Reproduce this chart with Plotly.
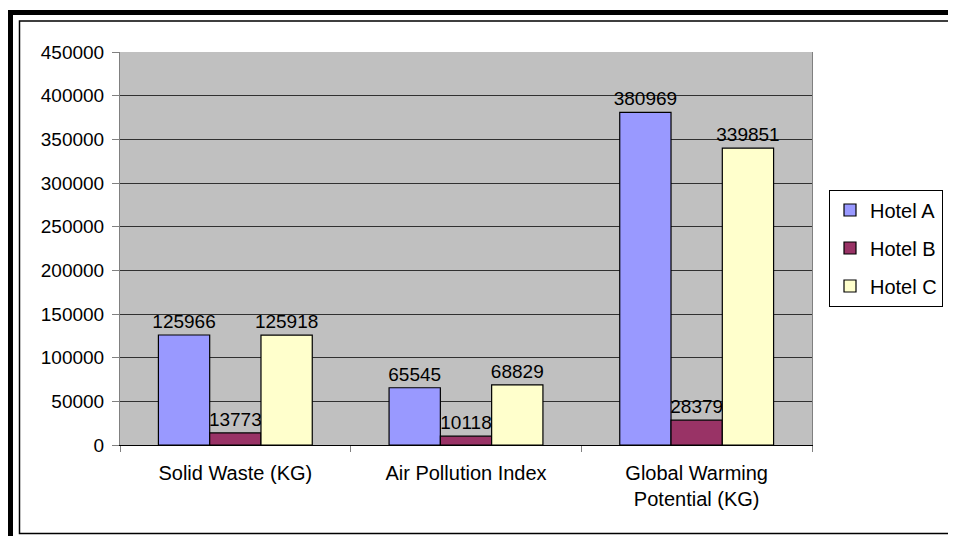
import plotly.graph_objects as go

categories = ["Solid Waste (KG)", "Air Pollution Index", "Global Warming<br>Potential (KG)"]
hotel_a = [125966, 65545, 380969]
hotel_b = [13773, 10118, 28379]
hotel_c = [125918, 68829, 339851]
series_names = ["Hotel A", "Hotel B", "Hotel C"]
series_colors = ["#9999FF", "#993366", "#FFFFCC"]
y_ticks = [0, 50000, 100000, 150000, 200000, 250000, 300000, 350000, 400000, 450000]

# page body adds an 8px offset; figure sized to fit the window
OFF = 8
W, H = 956 - OFF, 536 - OFF
ML, MR, MT, MB = 120 - OFF, 144, 52 - OFF, 91
PW, PH = W - ML - MR, H - MT - MB

def px(xs):
    # screen pixel -> paper x
    return (xs - OFF - ML) / PW

def py(ys):
    # screen pixel -> paper y
    return (H - MB - (ys - OFF)) / PH

FONT = "Liberation Sans, Arial, sans-serif"

fig = go.Figure()
for name, vals, col in zip(series_names, [hotel_a, hotel_b, hotel_c], series_colors):
    fig.add_trace(go.Bar(
        name=name, x=categories, y=vals,
        marker=dict(color=col, line=dict(color="black", width=1.2)),
        text=[str(v) for v in vals], textposition="outside",
        textfont=dict(family=FONT, size=19, color="black"),
        constraintext="none", cliponaxis=False,
        legendgroup=name,
    ))

fig.update_layout(
    width=W, height=H,
    margin=dict(l=ML, r=MR, t=MT, b=MB, pad=0),
    paper_bgcolor="white", plot_bgcolor="#C0C0C0",
    barmode="group", bargap=0.333, bargroupgap=0,
    font=dict(family=FONT, size=19, color="black"),
    showlegend=True,
    legend=dict(x=px(829), y=py(248), xanchor="left", yanchor="middle",
                bordercolor="black", borderwidth=1, bgcolor="white",
                font=dict(family=FONT, size=20, color="black"),
                tracegroupgap=9, itemwidth=30),
    xaxis=dict(showline=True, linecolor="black", linewidth=1,
               ticks="outside", tickson="boundaries", ticklen=6, tickcolor="#808080",
               tickfont=dict(family=FONT, size=20, color="black"),
               ticklabelstandoff=10,
               showgrid=False),
    yaxis=dict(range=[0, 450000], tickvals=y_ticks, ticktext=[str(v) for v in y_ticks],
               showgrid=True, gridcolor="#303030", gridwidth=1,
               showline=True, linecolor="#808080", linewidth=1, mirror=True,
               ticks="outside", ticklen=7, tickcolor="#808080",
               tickfont=dict(family=FONT, size=19, color="black"),
               ticklabelstandoff=4,
               zeroline=False),
    shapes=[
        dict(type="rect", xref="paper", yref="paper",
             x0=px(10.5), x1=px(975), y0=py(12.5), y1=py(560),
             line=dict(color="black", width=5), fillcolor="rgba(0,0,0,0)"),
        dict(type="rect", xref="paper", yref="paper",
             x0=px(19.5), x1=px(975), y0=py(21), y1=py(533.5),
             line=dict(color="black", width=1.5), fillcolor="rgba(0,0,0,0)"),
    ],
)

fig.write_html("out.html")
